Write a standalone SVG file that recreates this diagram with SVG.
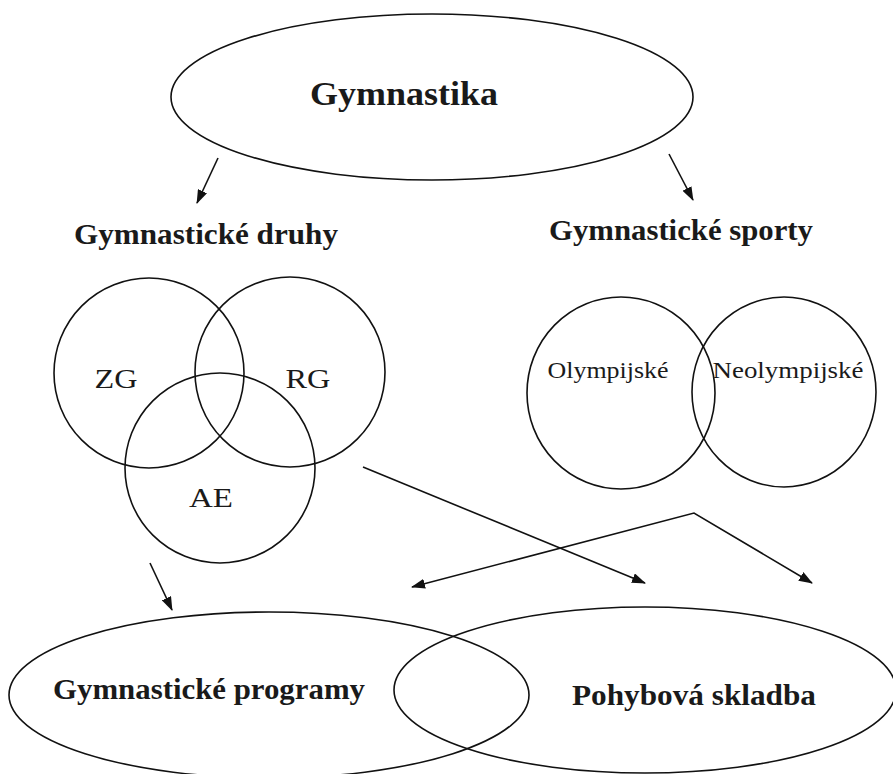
<svg xmlns="http://www.w3.org/2000/svg" width="893" height="774" viewBox="0 0 893 774">
<defs>
<style>
.s{fill:none;stroke:#111;stroke-width:1.6}
.b{font-family:"Liberation Serif","Times New Roman",serif;font-weight:bold;fill:#1a1a1a}
.r{font-family:"Liberation Serif","Times New Roman",serif;fill:#1a1a1a}
</style>
<marker id="ah" viewBox="0 0 14 10" refX="13" refY="5" markerWidth="14" markerHeight="10" markerUnits="userSpaceOnUse" orient="auto-start-reverse">
<path d="M0,0 L14,5 L0,10 z" fill="#111"/>
</marker>
</defs>
<rect width="893" height="774" fill="#fff"/>
<g id="gymnastika">
<ellipse class="s" cx="432" cy="97" rx="261" ry="83"/>
<text class="b" x="404" y="105" font-size="33" text-anchor="middle" textLength="188" lengthAdjust="spacingAndGlyphs">Gymnastika</text>
</g>
<g id="druhy">
<text class="b" x="206" y="244" font-size="29" text-anchor="middle" textLength="264" lengthAdjust="spacingAndGlyphs">Gymnastické druhy</text>
</g>
<g id="sporty">
<text class="b" x="681" y="240" font-size="29" text-anchor="middle" textLength="264" lengthAdjust="spacingAndGlyphs">Gymnastické sporty</text>
</g>
<g id="zg">
<circle class="s" cx="149" cy="373" r="95"/>
<text class="r" x="116" y="388" font-size="27" text-anchor="middle" textLength="43" lengthAdjust="spacingAndGlyphs">ZG</text>
</g>
<g id="rg">
<circle class="s" cx="290" cy="372" r="95"/>
<text class="r" x="308" y="388" font-size="27" text-anchor="middle" textLength="45" lengthAdjust="spacingAndGlyphs">RG</text>
</g>
<g id="ae">
<circle class="s" cx="220" cy="468" r="95"/>
<text class="r" x="211" y="507" font-size="27" text-anchor="middle" textLength="44" lengthAdjust="spacingAndGlyphs">AE</text>
</g>
<g id="olympijske">
<ellipse class="s" cx="621" cy="393" rx="94" ry="96"/>
<text class="r" x="608" y="378" font-size="23" text-anchor="middle" textLength="121" lengthAdjust="spacingAndGlyphs">Olympijské</text>
</g>
<g id="neolympijske">
<ellipse class="s" cx="784" cy="392" rx="92" ry="95"/>
<text class="r" x="788" y="378" font-size="23" text-anchor="middle" textLength="151" lengthAdjust="spacingAndGlyphs">Neolympijské</text>
</g>
<g id="programy">
<ellipse class="s" cx="269" cy="695" rx="260" ry="83"/>
<text class="b" x="209" y="699" font-size="29" text-anchor="middle" textLength="312" lengthAdjust="spacingAndGlyphs">Gymnastické programy</text>
</g>
<g id="skladba">
<ellipse class="s" cx="645" cy="690" rx="251" ry="83"/>
<text class="b" x="694" y="705" font-size="29" text-anchor="middle" textLength="244" lengthAdjust="spacingAndGlyphs">Pohybová skladba</text>
</g>
<g id="connectors" class="s" marker-end="url(#ah)">
<line x1="218" y1="158" x2="197" y2="203"/>
<line x1="669" y1="154" x2="693" y2="200"/>
<line x1="363" y1="467" x2="645" y2="583"/>
<polyline points="412,587 694,513 812,583" marker-start="url(#ah)"/>
<line x1="150" y1="563" x2="172" y2="610"/>
</g>
</svg>
